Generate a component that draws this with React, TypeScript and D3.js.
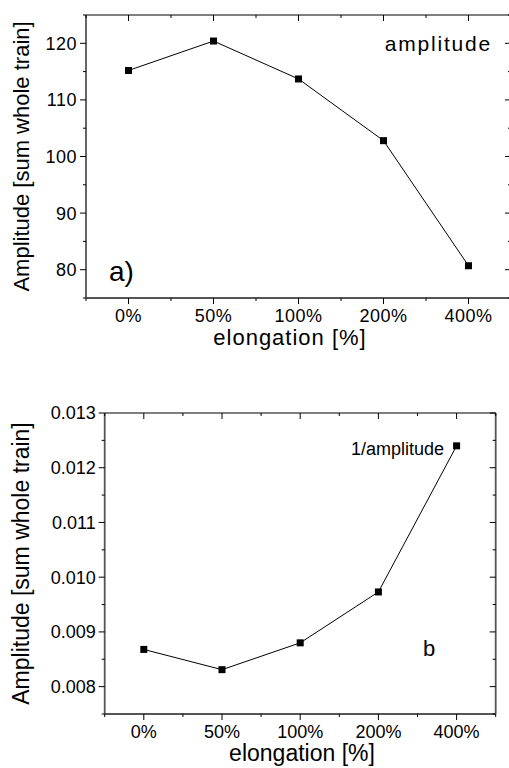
import React, { useRef, useEffect } from 'react'
import * as d3 from 'd3'

const categories = ['0%', '50%', '100%', '200%', '400%']
const amplitude = [115.2, 120.4, 113.7, 102.8, 80.7]
const inverseAmplitude = [0.00868, 0.00831, 0.0088, 0.00973, 0.0124]
const topTicks = [80, 90, 100, 110, 120]
const bottomTicks = [0.008, 0.009, 0.01, 0.011, 0.012, 0.013]

const FONT = '"Liberation Sans", Arial, sans-serif'

type Panel = {
  left: number
  right: number
  top: number
  bottom: number
  values: number[]
  domain: [number, number]
  ticks: number[]
  minorStep: number
  format: (v: number) => string
  fontSize: number
  titleSize: number
  spacing: number
  titleX: number
  labelSize: number
}

function drawPanel(svg: d3.Selection<SVGSVGElement, unknown, null, undefined>, p: Panel) {
  const x = d3.scaleLinear().domain([-0.5, categories.length - 0.5]).range([p.left, p.right])
  const y = d3.scaleLinear().domain(p.domain).range([p.bottom, p.top])
  const g = svg.append('g')

  const minorX = d3.range(-0.5, categories.length, 1)
  const minorY = d3.range(p.domain[0], p.domain[1] + 1e-9, p.minorStep)
    .filter(v => !p.ticks.some(t => Math.abs(t - v) < p.minorStep / 10))

  // frame
  g.append('line').attr('x1', p.left).attr('x2', p.right).attr('y1', p.top).attr('y2', p.top)
    .attr('stroke', '#000').attr('stroke-width', 1.2)
  g.append('line').attr('x1', p.right).attr('x2', p.right).attr('y1', p.top).attr('y2', p.bottom)
    .attr('stroke', '#555').attr('stroke-width', 1.8)
  g.append('line').attr('x1', p.left).attr('x2', p.right).attr('y1', p.bottom).attr('y2', p.bottom)
    .attr('stroke', '#555').attr('stroke-width', 1.8)
  g.append('line').attr('x1', p.left).attr('x2', p.left).attr('y1', p.top).attr('y2', p.bottom)
    .attr('stroke', '#555').attr('stroke-width', 1.8)

  // x ticks: bottom outward, top inward
  categories.forEach((_, i) => {
    g.append('line').attr('x1', x(i)).attr('x2', x(i)).attr('y1', p.bottom).attr('y2', p.bottom + 6)
      .attr('stroke', '#000')
    g.append('line').attr('x1', x(i)).attr('x2', x(i)).attr('y1', p.top).attr('y2', p.top + 6)
      .attr('stroke', '#000')
  })
  minorX.forEach(v => {
    g.append('line').attr('x1', x(v)).attr('x2', x(v)).attr('y1', p.bottom).attr('y2', p.bottom + 3)
      .attr('stroke', '#000')
    g.append('line').attr('x1', x(v)).attr('x2', x(v)).attr('y1', p.top).attr('y2', p.top + 3)
      .attr('stroke', '#000')
  })

  // y ticks: left outward, right inward
  p.ticks.forEach(t => {
    g.append('line').attr('x1', p.left - 6).attr('x2', p.left).attr('y1', y(t)).attr('y2', y(t))
      .attr('stroke', '#000')
    g.append('line').attr('x1', p.right - 6).attr('x2', p.right).attr('y1', y(t)).attr('y2', y(t))
      .attr('stroke', '#000')
    g.append('text').attr('x', p.left - 9).attr('y', y(t)).attr('dy', '0.36em')
      .attr('text-anchor', 'end').attr('font-size', p.fontSize).attr('font-family', FONT)
      .attr('letter-spacing', p.spacing / 2)
      .text(p.format(t))
  })
  minorY.forEach(t => {
    g.append('line').attr('x1', p.left - 3).attr('x2', p.left).attr('y1', y(t)).attr('y2', y(t))
      .attr('stroke', '#000')
    g.append('line').attr('x1', p.right - 3).attr('x2', p.right).attr('y1', y(t)).attr('y2', y(t))
      .attr('stroke', '#000')
  })

  categories.forEach((c, i) => {
    g.append('text').attr('x', x(i)).attr('y', p.bottom + 24)
      .attr('text-anchor', 'middle').attr('font-size', p.fontSize).attr('font-family', FONT)
      .attr('letter-spacing', p.spacing / 2)
      .text(c)
  })

  g.append('text').attr('x', p.titleX).attr('y', p.bottom + 47)
    .attr('text-anchor', 'middle').attr('font-size', p.titleSize).attr('font-family', FONT)
    .attr('letter-spacing', p.spacing)
    .text('elongation [%]')

  g.append('text')
    .attr('transform', `translate(29,${(p.top + p.bottom) / 2}) rotate(-90)`)
    .attr('text-anchor', 'middle').attr('font-size', p.labelSize).attr('font-family', FONT)
    .text('Amplitude [sum whole train]')

  const line = d3.line<number>().x((_, i) => x(i)).y(d => y(d))
  g.append('path').datum(p.values).attr('d', line).attr('fill', 'none')
    .attr('stroke', '#000').attr('stroke-width', 1)
  g.selectAll('rect.pt').data(p.values).enter().append('rect')
    .attr('x', (_, i) => x(i) - 3.5).attr('y', d => y(d) - 3.5)
    .attr('width', 7).attr('height', 7).attr('fill', '#000')

  return { x, y, g }
}

function Chart() {
  const ref = useRef<SVGSVGElement>(null)

  useEffect(() => {
    const svg = d3.select(ref.current!)
    svg.selectAll('*').remove()

    const a = drawPanel(svg, {
      left: 86, right: 511, top: 15, bottom: 298,
      values: amplitude, domain: [75, 125], ticks: topTicks, minorStep: 5,
      format: d3.format('d'), fontSize: 18, titleSize: 22, spacing: 1,
      titleX: 290, labelSize: 22
    })
    a.g.append('text').attr('x', 492).attr('y', 51).attr('text-anchor', 'end')
      .attr('font-size', 21).attr('font-family', FONT).attr('letter-spacing', 1.8)
      .text('amplitude')
    a.g.append('text').attr('x', 109).attr('y', 281)
      .attr('font-size', 28).attr('font-family', FONT)
      .text('a)')

    const b = drawPanel(svg, {
      left: 104.7, right: 495.7, top: 413, bottom: 714,
      values: inverseAmplitude, domain: [0.0075, 0.013], ticks: bottomTicks, minorStep: 0.0005,
      format: d3.format('.3f'), fontSize: 18, titleSize: 23, spacing: 0,
      titleX: 302, labelSize: 23
    })
    b.g.append('text').attr('x', 351).attr('y', 455)
      .attr('font-size', 18).attr('font-family', FONT)
      .text('1/amplitude')
    b.g.append('text').attr('x', 423).attr('y', 656)
      .attr('font-size', 22).attr('font-family', FONT)
      .text('b')
  }, [])

  return (
    <svg ref={ref} width={509} height={768}
      style={{ position: 'absolute', left: 0, top: 0, background: '#fff' }} />
  )
}

export default function App() {
  return <Chart />
}
